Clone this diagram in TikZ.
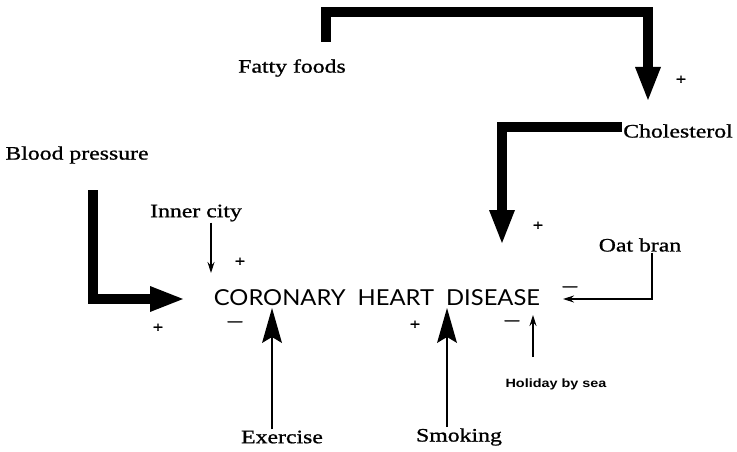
\documentclass[tikz,border=0pt]{standalone}
\usepackage{fontspec}
\setmainfont{Liberation Serif}[FakeStretch=1.25, FakeBold=1]
\newfontfamily\chdfont{Lato}[FakeStretch=1.08]
\newfontfamily\smallfont{Liberation Sans}[FakeStretch=1.2]
\usepackage{tikz}
\usetikzlibrary{arrows.meta, positioning}

\begin{document}
\begin{tikzpicture}[x=1pt, y=-1pt,
    factor/.style={font=\fontsize{19}{22}\selectfont, inner sep=1pt},
    sgn/.style={font=\fontsize{15}{15}\selectfont\bfseries, inner sep=0pt},
    neg/.style={font=\fontsize{11.5}{12}\selectfont\bfseries, inner sep=0pt},
    fat/.style={line width=9.5pt, -{Triangle[length=33pt, width=26pt, line width=0pt]}},
    mid/.style={line width=2.6pt, -{Stealth[length=35pt, width=20pt, inset=6pt, line width=0pt]}},
    slim/.style={line width=1.2pt, -{Stealth[length=11pt, width=7pt]}},
]
    \useasboundingbox (0,0) rectangle (737,452);

    % factors
    \node[factor] (fatty) at (292,68) {Fatty foods};
    \node[factor] (chol) at (678,131) {Cholesterol};
    \node[factor] (bp) at (77,155) {Blood pressure};
    \node[factor] (inner) at (196,213) {Inner city};
    \node[factor] (oat) at (640,245) {Oat bran};
    \node[factor] (exer) at (282,437) {Exercise};
    \node[factor] (smok) at (459,437) {Smoking};
    \node[font=\smallfont\fontsize{12}{12}\selectfont\bfseries, inner sep=1pt] (holi) at (556,384) {Holiday by sea};
    \node[font=\chdfont\fontsize{22}{25}\selectfont, inner sep=1pt] (chd) at (377,298)
        {CORONARY\hspace{0.55em}HEART\hspace{0.55em}DISEASE};

    % arrow ends
    \coordinate (fatout) at (326,42);
    \coordinate (fatbend) at (326,12);
    \coordinate (cholin) at (648,100);
    \coordinate (heartin) at (502,243);
    \coordinate (bpout) at (93,190);
    \coordinate (coronin) at (183,299);
    \coordinate (innerin) at (211,273);
    \coordinate (exerin) at (272,308);
    \coordinate (smokin) at (447,308);
    \coordinate (holout) at (533,357);
    \coordinate (holin) at (533,315);
    \coordinate (oatin) at (563,299);

    \draw[fat] (fatout) -- (fatbend) -| (cholin);
    \draw[fat] ([yshift=4pt]chol.west) -| (heartin);
    \draw[fat] (bpout) |- (coronin);
    \draw[slim] ([xshift=15pt]inner.south) -- (innerin);
    \draw[mid] (exer.north -| exerin) -- (exerin);
    \draw[mid] (smok.north -| smokin) -- (smokin);
    \draw[slim] (holout) -- (holin);
    \draw[slim] ([xshift=12pt]oat.south) |- (oatin);

    % signs
    \node[sgn] (pchol) at (681,80) {+};
    \node[sgn] (pheart) at (538,226) {+};
    \node[sgn] (pinner) at (240,262) {+};
    \node[sgn] (pbp) at (158,328) {+};
    \node[sgn] (psmok) at (415,325) {+};
    \node[neg] (mexer) at (235,323) {—};
    \node[neg] (mhol) at (512,322) {—};
    \node[neg] (moat) at (570,288) {—};
\end{tikzpicture}
\end{document}
